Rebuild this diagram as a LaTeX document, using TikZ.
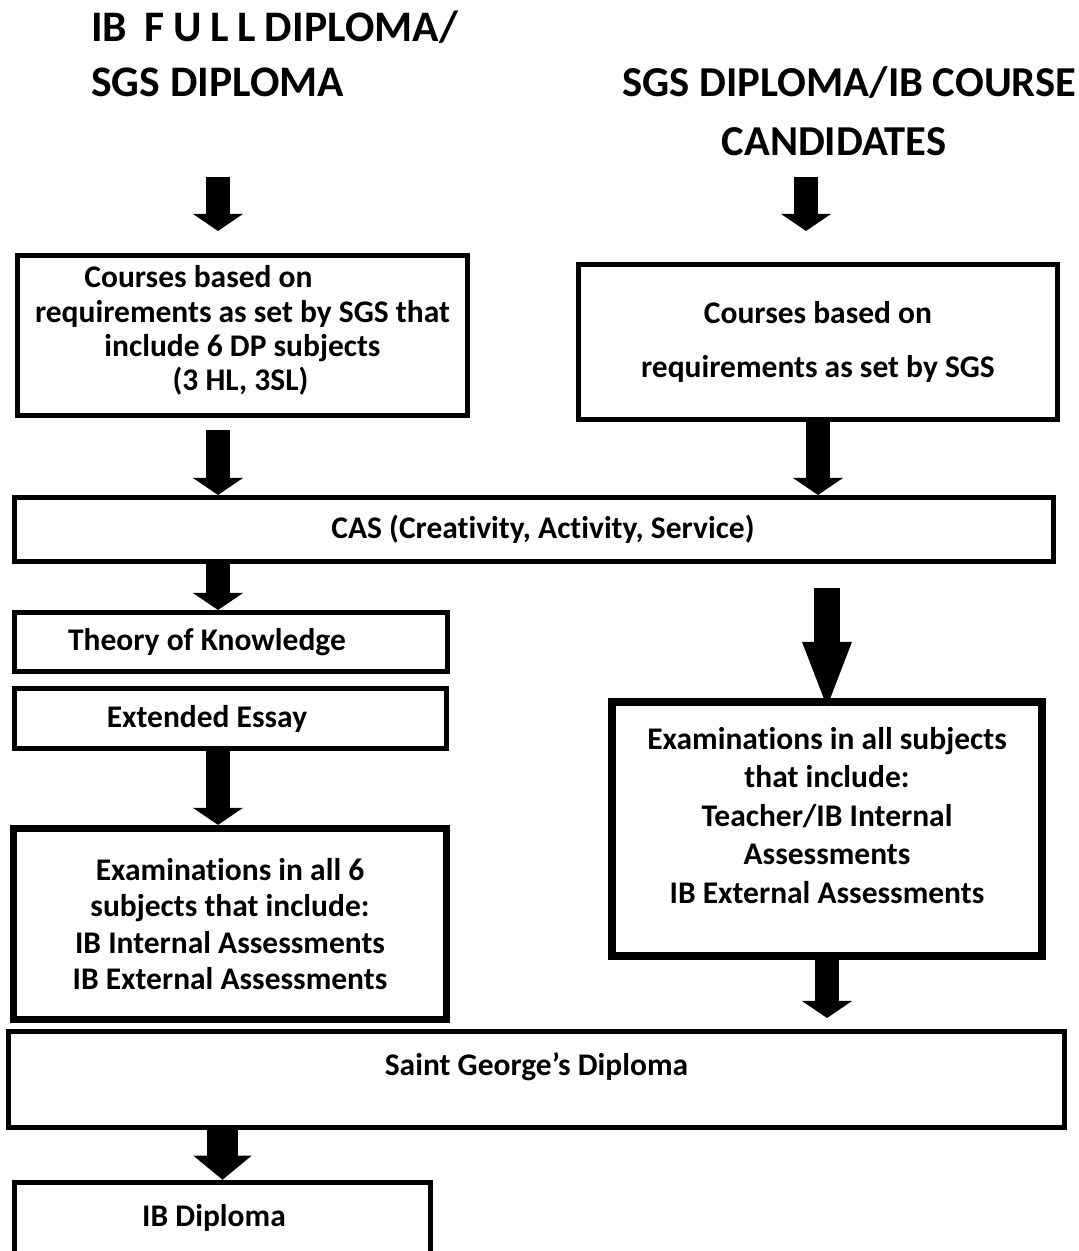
\documentclass[tikz,border=0pt]{standalone}
\usepackage{fontspec}
\setmainfont{Carlito}[Ligatures=NoCommon]
\usetikzlibrary{arrows.meta, calc, positioning}

\begin{document}
\begin{tikzpicture}[
    x=0.025cm, y=-0.025cm,
    titletext/.style={
        inner sep=0pt,
        font=\bfseries\fontsize{31}{39.1}\selectfont
    },
    box/.style={
        rectangle,
        draw=black,
        line width=0.125cm,
        inner sep=0pt,
        align=center,
        font=\bfseries\fontsize{22.4}{26}\selectfont
    },
    thickbox/.style={
        box,
        line width=0.18cm
    },
    flow/.style={
        line width=0.6cm,
        -{Triangle[width=1.25cm, length=0.425cm, line width=0pt]}
    },
    longflow/.style={
        line width=0.65cm,
        -{Triangle[width=1.25cm, length=1.625cm, line width=0pt]}
    },
    wideflow/.style={
        line width=0.75cm,
        -{Triangle[width=1.45cm, length=0.6cm, line width=0pt]}
    }
]
\path[use as bounding box, fill=white] (0,0) rectangle (1079,1251);

% Titles
\node[titletext, anchor=west, align=left] (ltitle) at (91,53.5)
    {{\spaceskip=0.2em\relax IB\ \ F U L L DIPLOMA/}\\SGS DIPLOMA};
\node[titletext, align=center, font=\bfseries\fontsize{30.3}{42}\selectfont] (rtitle) at (849.5,111)
    {SGS DIPLOMA/IB COURSE\\CANDIDATES\hspace*{0.775cm}};

% Course boxes
\node[box, minimum width=11.25cm, minimum height=4cm, text depth=0.36cm,
      font=\bfseries\fontsize{22.4}{24.4}\selectfont] (lcourse) at (242.5,335.5)
    {Courses based on\hspace*{2.2cm}\\requirements as set by SGS that\hspace*{0.5cm}\\include 6 DP subjects\hspace*{0.15cm}\\(3 HL, 3SL)\hspace*{0.1cm}};
\node[box, minimum width=11.975cm, minimum height=3.875cm,
      font=\bfseries\fontsize{22.4}{38.4}\selectfont] (rcourse) at (818,342)
    {Courses based on\\requirements as set by SGS};

% CAS
\node[box, minimum width=25.975cm, minimum height=1.6cm] (cas) at (534,529.5)
    {\hspace*{0.45cm}CAS (Creativity, Activity, Service)};

% Left column
\node[box, minimum width=10.825cm, minimum height=1.475cm] (tok) at (231,642)
    {Theory of Knowledge\hspace*{1.2cm}};
\node[box, minimum width=10.8cm, minimum height=1.5cm] (ee) at (230.5,718.5)
    {Extended Essay\hspace*{1.175cm}};
\node[thickbox, minimum width=10.825cm, minimum height=4.775cm] (lexam) at (230,924)
    {Examinations in all 6\\subjects that include:\\IB Internal Assessments\\IB External Assessments};

% Right column
\node[thickbox, line width=0.2cm, minimum width=10.75cm, minimum height=6.35cm, text depth=0.7cm,
      font=\bfseries\fontsize{22.4}{27.4}\selectfont] (rexam) at (827,829)
    {Examinations in all subjects\\that include:\\Teacher/IB Internal\\Assessments\\IB External Assessments};

% Diplomas
\node[box, minimum width=26.4cm, minimum height=2.4cm, text depth=0.775cm] (sgd) at (536.5,1079.5)
    {Saint George’s Diploma};
\node[box, minimum width=10.4cm, minimum height=1.7875cm] (ibd) at (222.5,1218)
    {IB Diploma\hspace*{0.425cm}};

% Flow arrows
\coordinate (lstart) at (218,177);
\coordinate (rstart) at (806,177);
\draw[flow, shorten >=0.55cm] (lstart) -- (lstart |- lcourse.north);
\draw[flow, shorten >=0.775cm] (rstart) -- (rstart |- rcourse.north);
\draw[flow, shorten <=0.3cm] (lcourse.south -| lstart) -- (cas.north -| lstart);
\draw[flow] (rcourse.south) -- (rcourse.south |- cas.north);
\draw[flow] (cas.south -| lstart) -- (tok.north -| lstart);
\draw[flow] (ee.south -| lstart) -- (lexam.north -| lstart);
\draw[longflow, shorten <=0.6cm, shorten >=-0.22cm] (rexam.north |- cas.south) -- (rexam.north);
\draw[flow, shorten >=0.275cm] (rexam.south) -- (rexam.south |- sgd.north);
\draw[wideflow] (ibd.north |- sgd.south) -- (ibd.north);

\end{tikzpicture}
\end{document}
